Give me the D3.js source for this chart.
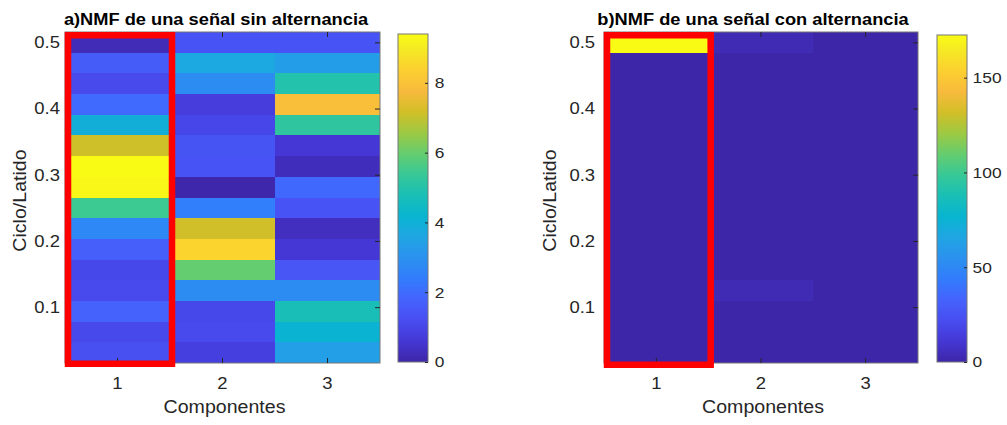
<!DOCTYPE html>
<html>
<head>
<meta charset="utf-8">
<style>
    body { margin: 0; background: #fff; }
    svg text { font-family: "Liberation Sans", Arial, sans-serif; fill: #262626; }
    .tick line { stroke: #262626; }
</style>
</head>
<body>
<svg id="chart" width="1007" height="425"></svg>
<script src="https://cdn.jsdelivr.net/npm/d3@7"></script>
<script>
    // rows: ciclo/latido, bottom to top
    let ciclos = [0.03125, 0.0625, 0.09375, 0.125, 0.15625, 0.1875, 0.21875, 0.25,
                  0.28125, 0.3125, 0.34375, 0.375, 0.40625, 0.4375, 0.46875, 0.5]
    let componentes = [1, 2, 3]
    let yTicks = [0.1, 0.2, 0.3, 0.4, 0.5]

    // a) sin alternancia, one array per component (bottom to top)
    let sinAlt1 = [1.28, 1.09, 1.76, 1.12, 1.05, 1.69, 2.73, 5.45, 9.3, 9.4, 7.13, 3.92, 1.95, 1.1, 1.61, 0.2]
    let sinAlt2 = [0.82, 1.12, 1.05, 2.83, 5.97, 8.47, 7.15, 2.48, 0.05, 1.36, 1.38, 1.01, 0.75, 2.85, 3.69, 1.36]
    let sinAlt3 = [3.4, 4.1, 4.77, 2.83, 1.43, 0.6, 0.3, 1.36, 1.91, 0.25, 0.6, 5.22, 7.9, 4.95, 3.35, 1.36]
    let sinAltMax = 9.4
    let sinAltTicks = [0, 2, 4, 6, 8]

    // b) con alternancia
    let conAlt1 = [0.3, 0.3, 0.3, 0.3, 0.3, 0.3, 0.3, 0.3, 0.3, 0.3, 0.3, 0.3, 0.3, 0.3, 0.3, 172.5]
    let conAlt2 = [0.3, 0.3, 0.3, 3, 0.3, 0.3, 0.3, 0.3, 0.3, 0.3, 0.3, 0.3, 0.3, 0.3, 0.3, 3]
    let conAlt3 = [0.3, 0.3, 0.3, 0.3, 0.3, 0.3, 0.3, 0.3, 0.3, 0.3, 0.3, 0.3, 0.3, 0.3, 0.3, 0.3]
    let conAltMax = 172.5
    let conAltTicks = [0, 50, 100, 150]

    // parula colormap (MATLAB), sampled
    let parulaPos = [0, 4, 8, 12, 16, 20, 24, 28, 32, 36, 40, 44, 48, 52, 56, 60, 63].map(i => i / 63)
    let parulaCol = ["#3e26a8", "#4537d5", "#484df0", "#4563fd", "#327cfc", "#2b91ef", "#20a5e3", "#08b5d0",
                     "#19bfb6", "#37c897", "#64cd6f", "#9dc943", "#d1bf27", "#f8ba3d", "#fccf30", "#f5e924", "#f9fb15"]
    let parula = d3.scaleLinear().domain(parulaPos).range(parulaCol).clamp(true)

    let svg = d3.select("#chart")
    svg.append("rect").attr("width", 1007).attr("height", 425).attr("fill", "#fff")

    let stretch = "scale(1.12,1)"

    function drawPanel(cfg, columns, vmax, cTicks, title, id) {
        let g = svg.append("g")
        let half = (ciclos[1] - ciclos[0]) / 2

        let x = d3.scaleBand().domain(componentes).range([cfg.left, cfg.right])
        let y = d3.scaleLinear()
            .domain([ciclos[0] - half, ciclos[ciclos.length - 1] + half])
            .range([cfg.bottom, cfg.top])
        let color = v => parula(v / vmax)

        let cells = []
        componentes.forEach((c, i) => {
            ciclos.forEach((f, j) => cells.push({ c: c, f: f, v: columns[i][j] }))
        })

        g.append("g")
            .attr("shape-rendering", "crispEdges")
            .selectAll("rect")
            .data(cells)
            .enter()
            .append("rect")
            .attr("x", d => Math.round(x(d.c)))
            .attr("width", d => Math.round(x(d.c) + x.bandwidth()) - Math.round(x(d.c)))
            .attr("y", d => Math.round(y(d.f + half)))
            .attr("height", d => Math.round(y(d.f - half)) - Math.round(y(d.f + half)))
            .attr("fill", d => color(d.v))

        // box
        g.append("rect")
            .attr("x", cfg.left).attr("y", cfg.top)
            .attr("width", cfg.right - cfg.left).attr("height", cfg.bottom - cfg.top)
            .attr("fill", "none").attr("stroke", "#777").attr("stroke-width", 1)

        // axes, ticks pointing in
        let xb = g.append("g").attr("transform", `translate(0,${cfg.bottom})`)
            .call(d3.axisBottom(x).tickSize(-5).tickPadding(14))
        let xt = g.append("g").attr("transform", `translate(0,${cfg.top})`)
            .call(d3.axisTop(x).tickSize(-5).tickFormat(""))
        let yl = g.append("g").attr("transform", `translate(${cfg.left},0)`)
            .call(d3.axisLeft(y).tickValues(yTicks).tickFormat(d3.format(".1f")).tickSize(-5).tickPadding(cfg.yPad))
        let yr = g.append("g").attr("transform", `translate(${cfg.right},0)`)
            .call(d3.axisRight(y).tickValues(yTicks).tickSize(-5).tickFormat(""))
        ;[xb, xt, yl, yr].forEach(a => {
            a.select(".domain").remove()
            a.selectAll("text").attr("font-size", 16.5).attr("fill", "#262626").attr("transform", stretch)
        })

        // red highlight on component 1
        g.append("rect")
            .attr("x", x(1) + 3)
            .attr("y", cfg.top + 3.25)
            .attr("width", x.bandwidth() - 1)
            .attr("height", cfg.bottom - cfg.top - 3.5 + cfg.redExtra)
            .attr("fill", "none").attr("stroke", "#ff0000").attr("stroke-width", 6.5)

        // labels
        g.append("text")
            .attr("transform", `translate(${(cfg.left + cfg.right) / 2 + 2},413) ${stretch}`)
            .attr("text-anchor", "middle").attr("font-size", 17.5)
            .text("Componentes")
        g.append("text")
            .attr("transform", `translate(${cfg.ylabX},${(cfg.top + cfg.bottom) / 2 + 3}) rotate(-90) ${stretch}`)
            .attr("text-anchor", "middle").attr("font-size", 17.5)
            .text("Ciclo/Latido")
        g.append("text")
            .attr("transform", `translate(${cfg.titleX},25) ${stretch}`)
            .attr("text-anchor", "middle").attr("font-size", 16.3).attr("font-weight", "bold")
            .style("fill", "#000")
            .text(title)

        // colorbar
        let cb = d3.scaleLinear().domain([0, vmax]).range([cfg.cbBottom, cfg.cbTop])
        let grad = svg.append("defs").append("linearGradient")
            .attr("id", id).attr("x1", 0).attr("y1", 1).attr("x2", 0).attr("y2", 0)
        grad.selectAll("stop")
            .data(parulaPos)
            .enter()
            .append("stop")
            .attr("offset", d => d)
            .attr("stop-color", d => parula(d))
        g.append("rect")
            .attr("x", cfg.cbLeft).attr("y", cfg.cbTop)
            .attr("width", cfg.cbRight - cfg.cbLeft).attr("height", cfg.cbBottom - cfg.cbTop)
            .attr("fill", `url(#${id})`).attr("stroke", "#777").attr("stroke-width", 1)
        let ca = g.append("g").attr("transform", `translate(${cfg.cbRight},0)`)
            .call(d3.axisRight(cb).tickValues(cTicks).tickSize(-3).tickPadding(cfg.cbPad))
        ca.select(".domain").remove()
        ca.selectAll("text").attr("font-size", 15.5).attr("fill", "#262626").attr("transform", stretch)
    }

    drawPanel({ left: 65, right: 380, top: 32, bottom: 363, yPad: 4.5, ylabX: 26, titleX: 216,
                cbLeft: 398, cbRight: 428, cbTop: 34, cbBottom: 362, cbPad: 6, redExtra: 1 },
        [sinAlt1, sinAlt2, sinAlt3], sinAltMax, sinAltTicks, "a)NMF de una señal sin alternancia", "cbA")

    drawPanel({ left: 604, right: 918, top: 32, bottom: 363, yPad: 8, ylabX: 556, titleX: 753,
                cbLeft: 937, cbRight: 967, cbTop: 35, cbBottom: 362, cbPad: 5, redExtra: 2 },
        [conAlt1, conAlt2, conAlt3], conAltMax, conAltTicks, "b)NMF de una señal con alternancia", "cbB")
</script>
</body>
</html>
